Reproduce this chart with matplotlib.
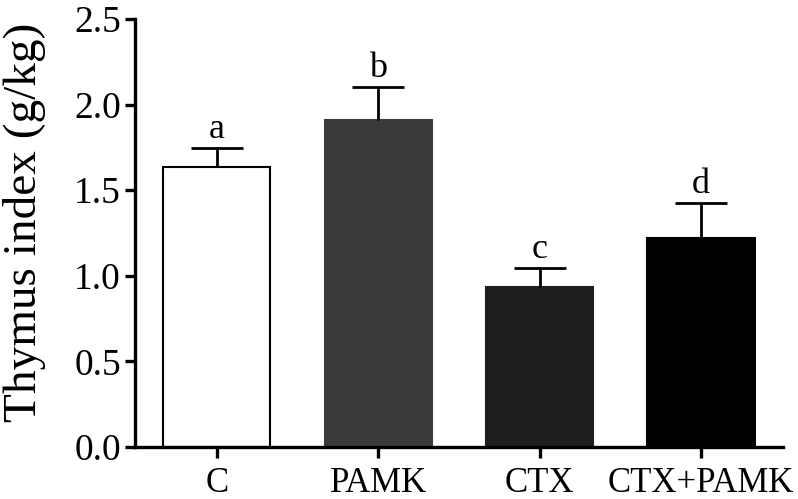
import matplotlib.pyplot as plt

groups = ["C", "PAMK", "CTX", "CTX+PAMK"]
means = [1.636, 1.91, 0.935, 1.221]
errs = [0.11, 0.193, 0.111, 0.204]
letters = ["a", "b", "c", "d"]
colors = ["#ffffff", "#3a3a3a", "#1e1e1e", "#000000"]

plt.rcParams['font.family'] = ['Liberation Serif', 'DejaVu Serif']

fig = plt.figure(figsize=(7.98, 4.99), dpi=100)
ax = fig.add_axes([0.169, 0.104, 0.812, 0.858])

x = list(range(len(groups)))
for i in x:
    ax.bar(i, means[i], width=0.665, color=colors[i],
           edgecolor="black" if i == 0 else colors[i], linewidth=1.5, zorder=2)
    # upper error only, hide the lower cap
    eb = ax.errorbar(i, means[i], yerr=[[0], [errs[i]]], fmt="none", ecolor="black",
                     elinewidth=2, capsize=19, capthick=2, zorder=3)
    eb[1][0].set_visible(False)
    ax.annotate(letters[i], (i, means[i] + errs[i]), xytext=(0, 7),
                textcoords="offset points", ha="center", va="baseline", fontsize=26)

ax.set_xlim(-0.508, 3.508)
ax.set_ylim(0, 2.5)
ax.set_yticks([0, 0.5, 1.0, 1.5, 2.0, 2.5])
ax.set_yticklabels(["0.0", "0.5", "1.0", "1.5", "2.0", "2.5"])
ax.set_xticks(x)
ax.set_xticklabels(groups)
ax.set_ylabel("Thymus index (g/kg)", fontsize=34)
ax.yaxis.set_label_coords(-0.137, 0.526)

for s in ["top", "right"]:
    ax.spines[s].set_visible(False)
for s in ["left", "bottom"]:
    ax.spines[s].set_linewidth(2.4)
ax.tick_params(axis="y", labelsize=27, width=2.4, length=7, direction="out", pad=3)
ax.tick_params(axis="x", labelsize=25, width=2.4, length=8, direction="out", pad=6)

fig.savefig("out.png", dpi=100)
